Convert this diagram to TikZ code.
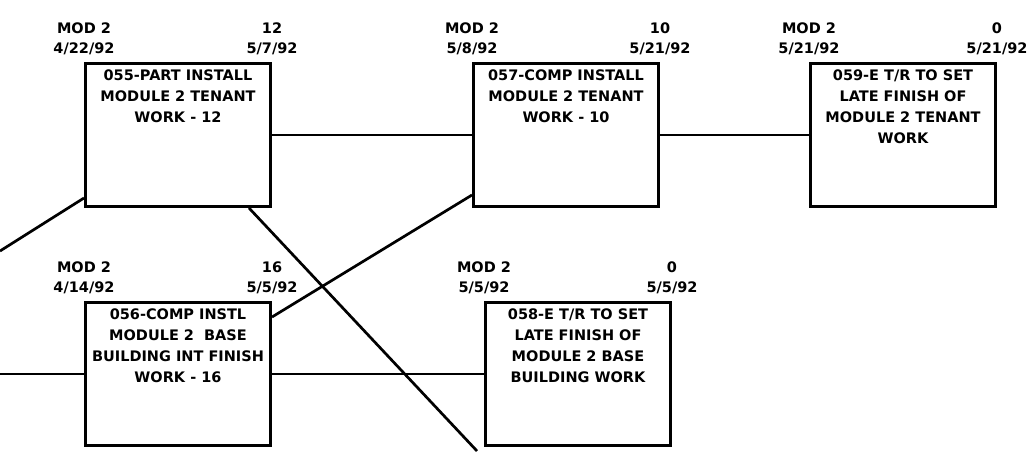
\documentclass[tikz,border=0pt]{standalone}
\usepackage{fontspec}
\setmainfont{DejaVu Sans}
\usetikzlibrary{positioning}

\tikzset{
  act/.style={draw, line width=3pt, minimum width=185pt, minimum height=143pt, inner sep=0pt},
  acttxt/.style={anchor=north, align=center, inner sep=0pt,
    font=\bfseries\fontsize{14.5}{21}\selectfont},
  dt/.style={align=center, inner sep=0pt, font=\bfseries\fontsize{14.5}{20}\selectfont},
  link/.style={line width=2.7pt},
}

\begin{document}
\begin{tikzpicture}[x=1pt, y=-1pt]
  \useasboundingbox (0,0) rectangle (1035,451);

  % activity boxes
  \node[act, label={[acttxt, yshift=-8pt]north:{055-PART INSTALL\\MODULE 2 TENANT\\WORK - 12}}]
    (n055) at (178,135) {};
  \node[act, right=200pt of n055,
    label={[acttxt, yshift=-8pt]north:{057-COMP INSTALL\\MODULE 2 TENANT\\WORK - 10}}] (n057) {};
  \node[act, right=149pt of n057,
    label={[acttxt, yshift=-8pt]north:{059-E T/R TO SET\\LATE FINISH OF\\MODULE 2 TENANT\\WORK}}] (n059) {};
  \node[act, below=93pt of n055,
    label={[acttxt, yshift=-8pt]north:{056-COMP INSTL\\MODULE 2\ \ BASE\\BUILDING INT FINISH\\WORK - 16}}] (n056) {};
  \node[act, right=212pt of n056,
    label={[acttxt, yshift=-8pt]north:{058-E T/R TO SET\\LATE FINISH OF\\MODULE 2 BASE\\BUILDING WORK}}] (n058) {};

  % start / finish dates
  \node[dt, above=7pt of n055.north west] (s055) {MOD 2\\4/22/92};
  \node[dt, above=7pt of n055.north east] (f055) {12\\5/7/92};
  \node[dt, above=7pt of n057.north west] (s057) {MOD 2\\5/8/92};
  \node[dt, above=7pt of n057.north east] (f057) {10\\5/21/92};
  \node[dt, above=7pt of n059.north west] (s059) {MOD 2\\5/21/92};
  \node[dt, above=7pt of n059.north east] (f059) {0\\5/21/92};
  \node[dt, above=7pt of n056.north west] (s056) {MOD 2\\4/14/92};
  \node[dt, above=7pt of n056.north east] (f056) {16\\5/5/92};
  \node[dt, above=7pt of n058.north west] (s058) {MOD 2\\5/5/92};
  \node[dt, above=7pt of n058.north east] (f058) {0\\5/5/92};

  % links running off the sheet
  \coordinate (w1) at (0,251);
  \coordinate (w2) at (n056.west -| 0,0);
  \coordinate (s1) at (477,451);

  \draw[link] (w1) -- ([yshift=10pt]n055.south west);
  \draw[link] (w2) -- (n056.west);
  \draw[link] ([xshift=-23pt]n055.south east) -- (s1);
  \draw[link] ([yshift=-16pt]n056.north east) -- ([yshift=13pt]n057.south west);
  \foreach \a/\b in {n055/n057, n057/n059, n056/n058}
    \draw[link] (\a.east) -- (\b.west);
\end{tikzpicture}
\end{document}
